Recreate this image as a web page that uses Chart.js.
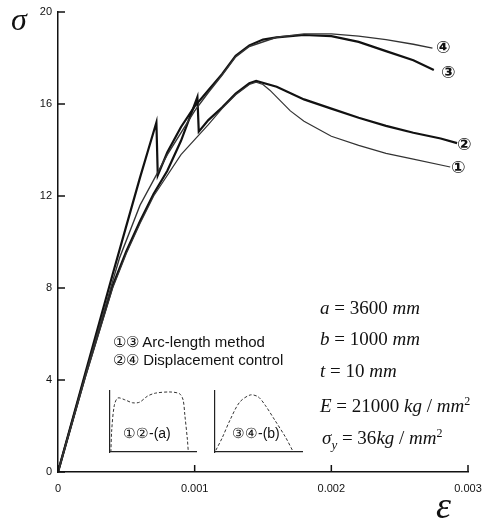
<!DOCTYPE html>
<html>
<head>
<meta charset="utf-8">
<script src="https://cdn.jsdelivr.net/npm/chart.js@4.4.1/dist/chart.umd.min.js"></script>
<style>
  html, body { margin: 0; padding: 0; background: #fff; }
  #wrap { position: relative; width: 482px; height: 520px; }
  #wrap canvas { position: absolute; }
  .txt { position: absolute; white-space: nowrap; color: #111; }
  .sans { font-family: "Liberation Sans", Arial, sans-serif; font-size: 15px; line-height: 15px; }
  .circ { font-family: "DejaVu Sans", sans-serif; font-size: 17px; line-height: 17px; font-weight: bold; }
  .prm { font-family: "Liberation Serif", serif; font-size: 19px; line-height: 19px; }
  .prm i { font-style: italic; }
  .big { font-family: "Liberation Serif", serif; font-style: italic; }
</style>
</head>
<body>
<div id="wrap">
  <canvas id="mainChart" width="482" height="520" style="left:0;top:0"></canvas>
  <canvas id="insetA" width="89" height="64" style="left:108px;top:390px"></canvas>
  <canvas id="insetB" width="90" height="64" style="left:213px;top:390px"></canvas>

  <div class="txt big" style="left:11px;top:3px;font-size:32px;line-height:32px">σ</div>
  <div class="txt big" style="left:436px;top:488px;font-size:38px;line-height:34px">ε</div>

  <div class="txt circ" style="left:436px;top:39px">④</div>
  <div class="txt circ" style="left:441px;top:64px">③</div>
  <div class="txt circ" style="left:457px;top:136px">②</div>
  <div class="txt circ" style="left:451px;top:159px">①</div>

  <div class="txt sans" style="left:113px;top:334px">①③ Arc-length method</div>
  <div class="txt sans" style="left:113px;top:352px">②④ Displacement control</div>
  <div class="txt sans" style="left:123px;top:426px;font-size:14px">①②-(a)</div>
  <div class="txt sans" style="left:232px;top:426px;font-size:14px">③④-(b)</div>

  <div class="txt prm" style="left:320px;top:298px"><i>a</i> = 3600 <i>mm</i></div>
  <div class="txt prm" style="left:320px;top:329px"><i>b</i> = 1000 <i>mm</i></div>
  <div class="txt prm" style="left:320px;top:361px"><i>t</i> = 10 <i>mm</i></div>
  <div class="txt prm" style="left:320px;top:392px"><i>E</i> = 21000 <i>kg</i> / <i>mm</i><sup style="font-size:12px">2</sup></div>
  <div class="txt prm" style="left:322px;top:424px"><i>σ<sub style="font-size:13px">y</sub></i> = 36<i>kg</i> / <i>mm</i><sup style="font-size:12px">2</sup></div>
</div>

<script>
// curve (3): arc-length, with first snap-back, upper path
const strain3 = [0, 0.0002, 0.0004, 0.0005, 0.0006, 0.00066, 0.00072, 0.00073, 0.0008, 0.0009, 0.001, 0.0011, 0.0012, 0.0013, 0.0014, 0.0015, 0.0016, 0.0018, 0.002, 0.0022, 0.0024, 0.0026, 0.00275];
const stress3 = [0, 4.3, 8.6, 10.7, 12.8, 14.0, 15.2, 12.9, 13.9, 15.0, 15.9, 16.6, 17.3, 18.1, 18.55, 18.8, 18.9, 19.0, 18.95, 18.7, 18.3, 17.9, 17.48];

// curve (4): upper path, smooth
const strain4 = [0, 0.0002, 0.0004, 0.00045, 0.0006, 0.0008, 0.001, 0.0011, 0.0012, 0.0013, 0.0014, 0.0016, 0.0018, 0.002, 0.0022, 0.0024, 0.0026, 0.00274];
const stress4 = [0, 4.2, 8.3, 9.3, 11.6, 13.8, 15.7, 16.5, 17.25, 18.05, 18.5, 18.9, 19.05, 19.05, 18.95, 18.8, 18.6, 18.43];

// curve (2): lower path, with second snap-back
const strain2 = [0, 0.0002, 0.0004, 0.0005, 0.0006, 0.0007, 0.0008, 0.0009, 0.00102, 0.00103, 0.0011, 0.0012, 0.0013, 0.0014, 0.00145, 0.0016, 0.0018, 0.002, 0.0022, 0.0024, 0.0026, 0.0028, 0.00292];
const stress2 = [0, 4.2, 8.1, 9.6, 10.9, 12.1, 13.1, 14.4, 16.3, 14.8, 15.3, 15.85, 16.45, 16.9, 17.0, 16.75, 16.2, 15.8, 15.4, 15.05, 14.75, 14.5, 14.3];

// curve (1): lower path, smooth
const strain1 = [0, 0.0002, 0.0004, 0.0005, 0.0006, 0.0007, 0.0009, 0.0011, 0.0012, 0.0013, 0.0014, 0.00145, 0.0015, 0.00155, 0.0017, 0.0018, 0.002, 0.0022, 0.0024, 0.0026, 0.00287];
const stress1 = [0, 4.1, 8.0, 9.5, 10.8, 12.0, 13.8, 15.1, 15.8, 16.4, 16.85, 16.95, 16.85, 16.6, 15.7, 15.25, 14.6, 14.2, 13.85, 13.6, 13.26];

const xTicks = [0, 0.001, 0.002, 0.003];
const yTicks = [0, 4, 8, 12, 16, 20];

// inset deflection shapes (normalised)
const shapeAx = [0.01, 0.02, 0.05, 0.09, 0.17, 0.26, 0.34, 0.43, 0.52, 0.69, 0.8, 0.84, 0.86, 0.89, 0.9];
const shapeAy = [0, 0.37, 0.78, 0.9, 0.87, 0.82, 0.83, 0.93, 0.98, 1.0, 0.97, 0.87, 0.62, 0.2, 0];
const shapeBx = [0.01, 0.08, 0.17, 0.28, 0.40, 0.49, 0.57, 0.68, 0.80, 0.89];
const shapeBy = [0.03, 0.23, 0.53, 0.83, 0.95, 0.92, 0.78, 0.53, 0.25, 0];

function pts(xs, ys) {
    return xs.map((x, i) => ({ x: x, y: ys[i] }));
}

const inwardTicks = {
    id: 'inwardTicks',
    afterDraw(chart) {
        const ctx = chart.ctx;
        const xs = chart.scales.x, ys = chart.scales.y;
        ctx.save();
        ctx.strokeStyle = '#111';
        ctx.lineWidth = 1.5;
        ctx.beginPath();
        yTicks.forEach(v => {
            const py = ys.getPixelForValue(v);
            ctx.moveTo(xs.left, py);
            ctx.lineTo(xs.left + 7, py);
        });
        xTicks.forEach(v => {
            const px = xs.getPixelForValue(v);
            ctx.moveTo(px, ys.bottom);
            ctx.lineTo(px, ys.bottom - 7);
        });
        ctx.stroke();
        ctx.restore();
    }
};

new Chart(document.getElementById('mainChart').getContext('2d'), {
    type: 'line',
    data: {
        datasets: [
            { label: '1', data: pts(strain1, stress1), borderColor: '#333', borderWidth: 1.2 },
            { label: '4', data: pts(strain4, stress4), borderColor: '#333', borderWidth: 1.4 },
            { label: '2', data: pts(strain2, stress2), borderColor: '#111', borderWidth: 2.2 },
            { label: '3', data: pts(strain3, stress3), borderColor: '#111', borderWidth: 2.2 }
        ]
    },
    options: {
        responsive: false,
        animation: false,
        layout: { padding: { top: 12, right: 14, left: 0, bottom: 0 } },
        elements: { point: { radius: 0 }, line: { tension: 0 } },
        scales: {
            x: {
                type: 'linear',
                min: 0,
                max: 0.003,
                afterFit: s => { s.height = 48; s.paddingRight = 0; s.paddingLeft = 0; },
                afterBuildTicks: s => { s.ticks = xTicks.map(v => ({ value: v })); },
                grid: { drawOnChartArea: false, drawTicks: false },
                border: { display: true, color: '#111', width: 1.5 },
                ticks: {
                    padding: 10,
                    color: '#111',
                    font: { family: 'Liberation Sans', size: 11 },
                    callback: v => v === 0 ? '0' : v.toFixed(3)
                }
            },
            y: {
                min: 0,
                max: 20,
                afterFit: s => { s.width = 58; s.paddingTop = 0; s.paddingBottom = 0; },
                afterBuildTicks: s => { s.ticks = yTicks.map(v => ({ value: v })); },
                grid: { drawOnChartArea: false, drawTicks: false },
                border: { display: true, color: '#111', width: 1.5 },
                ticks: {
                    padding: 6,
                    color: '#111',
                    font: { family: 'Liberation Sans', size: 11 }
                }
            }
        },
        plugins: {
            legend: { display: false },
            tooltip: { enabled: false }
        }
    },
    plugins: [inwardTicks]
});

function insetChart(id, xs, ys) {
    new Chart(document.getElementById(id).getContext('2d'), {
        type: 'line',
        data: {
            datasets: [{ data: pts(xs, ys), borderColor: '#333', borderWidth: 1, borderDash: [3, 2] }]
        },
        options: {
            responsive: false,
            animation: false,
            layout: { padding: 0 },
            elements: { point: { radius: 0 }, line: { tension: 0.3 } },
            scales: {
                x: {
                    type: 'linear', min: 0, max: 1,
                    afterFit: s => { s.height = 2; },
                    grid: { display: false },
                    ticks: { display: false },
                    border: { display: true, color: '#222', width: 1.2 }
                },
                y: {
                    min: 0, max: 1.033,
                    afterFit: s => { s.width = 2; },
                    grid: { display: false },
                    ticks: { display: false },
                    border: { display: true, color: '#222', width: 1.2 }
                }
            },
            plugins: { legend: { display: false }, tooltip: { enabled: false } }
        }
    });
}

insetChart('insetA', shapeAx, shapeAy);
insetChart('insetB', shapeBx, shapeBy);
</script>
</body>
</html>
